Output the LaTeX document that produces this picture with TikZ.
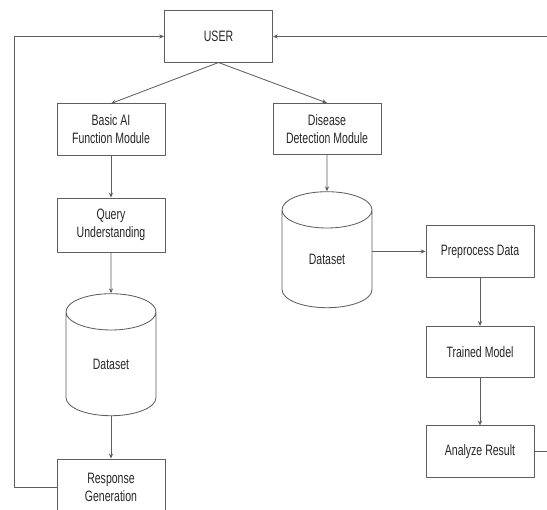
\documentclass[tikz,border=0pt]{standalone}
\usepackage{fontspec}
\setmainfont{Liberation Sans}[FakeStretch=0.7]
\usetikzlibrary{shapes.geometric,arrows.meta}
\definecolor{edgegray}{HTML}{5E5E5E}
\begin{document}
\begin{tikzpicture}[x=0.025cm,y=-0.025cm,>={Stealth[length=3.5pt,width=3pt]},
	font=\fontsize{10.7}{12.8}\selectfont, line join=round,
	box/.style={draw=edgegray,line width=0.6pt,text=black!85,minimum width=2.7cm,minimum height=1.28cm,inner sep=0pt,align=center},
	dbase/.style={draw=edgegray,line width=0.6pt,text=black!85,cylinder,shape border rotate=90,aspect=1,minimum width=2.25cm,minimum height=2.9cm,inner sep=0pt},
	flow/.style={->,draw=edgegray,line width=0.6pt}]
	\clip (0,0) rectangle (547,510);
	
	\node[box] (user) at (218.5,36.5) {USER};
	% left branch
	\node[box] (basic) at (111,129.5) {Basic AI\\Function Module};
	\node[box,minimum height=1.35cm] (query) at (111,225) {Query\\Understanding};
	\node[dbase,minimum height=3.05cm] (data1) at (111,364) {Dataset};
	\node[box,minimum height=1.4cm] (resp) at (111,487) {Response\\Generation};
	% right branch
	\node[box] (disease) at (327,129) {Disease\\Detection Module};
	\node[dbase] (data2) at (327,259) {Dataset};
	\node[box] (prep) at (480,251.5) {Preprocess Data};
	\node[box] (trained) at (480,352) {Trained Model};
	\node[box] (analyze) at (480,451.5) {Analyze Result};
	\coordinate (lloop) at (14,0);
	\coordinate (rloop) at (570,0);
	
	\draw[flow] (user.south) -- (basic.north);
	\draw[flow] (user.south) -- (disease.north);
	\draw[flow] (basic) -- (query);
	\draw[flow] (query) -- (data1);
	\draw[flow] (data1) -- (resp);
	\draw[flow] (disease) -- (data2);
	\draw[flow] (data2.east |- prep.west) -- (prep.west);
	\draw[flow] (prep) -- (trained);
	\draw[flow] (trained) -- (analyze);
	\draw[flow] (resp.west) -- (lloop |- resp.west) -- (lloop |- user.west) -- (user.west);
	\draw[flow] (analyze.east) -- (rloop |- analyze.east) -- (rloop |- user.east) -- (user.east);
\end{tikzpicture}
\end{document}
